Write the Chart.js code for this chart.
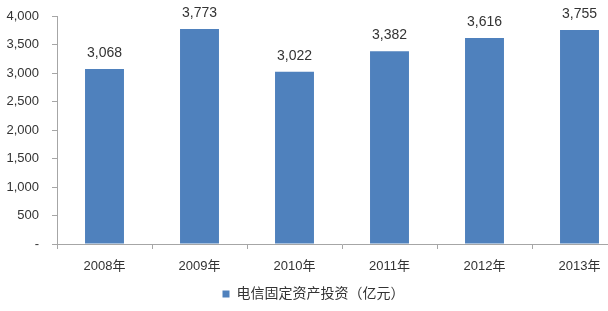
<!DOCTYPE html>
<html>
<head>
<meta charset="UTF-8">
<script src="https://cdn.jsdelivr.net/npm/chart.js"></script>
<style>
  html, body { margin: 0; padding: 0; background: #fff; overflow: hidden; }
  #wrap { width: 608px; height: 311px; overflow: hidden; }
  #box { width: 634px; height: 311px; }
</style>
</head>
<body>
<div id="wrap"><div id="box"><canvas id="investChart"></canvas></div></div>
<script>
// chart data
var years = ['2008年', '2009年', '2010年', '2011年', '2012年', '2013年'];
var investment = [3068, 3773, 3022, 3382, 3616, 3755];
var yTicks = [0, 500, 1000, 1500, 2000, 2500, 3000, 3500, 4000];
var seriesName = '电信固定资产投资（亿元）';

var fontFamily = '"Liberation Sans", "Noto Sans CJK SC", sans-serif';
var textColor = '#333333';
var axisColor = '#A6A6A6';

function fmt(v) {
    if (v === 0) return '-';
    return v.toLocaleString('en-US');
}

// labels above the bars
var valueLabels = {
    id: 'valueLabels',
    afterDatasetsDraw: function (chart) {
        var ctx = chart.ctx;
        var meta = chart.getDatasetMeta(0);
        ctx.save();
        ctx.font = '14px ' + fontFamily;
        ctx.fillStyle = textColor;
        ctx.textAlign = 'center';
        ctx.textBaseline = 'middle';
        meta.data.forEach(function (bar, i) {
            ctx.fillText(fmt(investment[i]), bar.x, bar.y - 16);
        });
        ctx.restore();
    }
};

var ctx = document.getElementById('investChart').getContext('2d');
var investChart = new Chart(ctx, {
    type: 'bar',
    data: {
        labels: years,
        datasets: [{
            label: seriesName,
            data: investment,
            backgroundColor: '#4F81BD',
            borderWidth: 0,
            categoryPercentage: 1,
            barPercentage: 0.41
        }]
    },
    options: {
        responsive: true,
        maintainAspectRatio: false,
        animation: false,
        layout: { padding: { top: 16, right: 7, left: 0, bottom: 0 } },
        plugins: {
            legend: {
                position: 'bottom',
                labels: {
                    boxWidth: 7,
                    boxHeight: 7,
                    padding: 6,
                    color: textColor,
                    font: { size: 14, family: fontFamily }
                }
            },
            tooltip: { enabled: false }
        },
        scales: {
            x: {
                afterFit: function (scale) { scale.height = 37; },
                grid: { drawOnChartArea: false, drawTicks: true, tickLength: 5, color: axisColor, offset: true },
                border: { color: axisColor },
                ticks: { color: textColor, padding: 10, font: { size: 13, family: fontFamily } }
            },
            y: {
                min: 0,
                max: 4000,
                afterBuildTicks: function (scale) {
                    scale.ticks = yTicks.map(function (v) { return { value: v }; });
                },
                afterFit: function (scale) {
                    scale.width = 57;
                    scale.paddingTop = 0;
                    scale.paddingBottom = 0;
                },
                grid: { drawOnChartArea: false, drawTicks: true, tickLength: 5, color: axisColor },
                border: { color: axisColor },
                ticks: {
                    color: textColor,
                    padding: 13,
                    font: { size: 13, family: fontFamily },
                    callback: function (v) { return fmt(v); }
                }
            }
        }
    },
    plugins: [valueLabels]
});
</script>
</body>
</html>
